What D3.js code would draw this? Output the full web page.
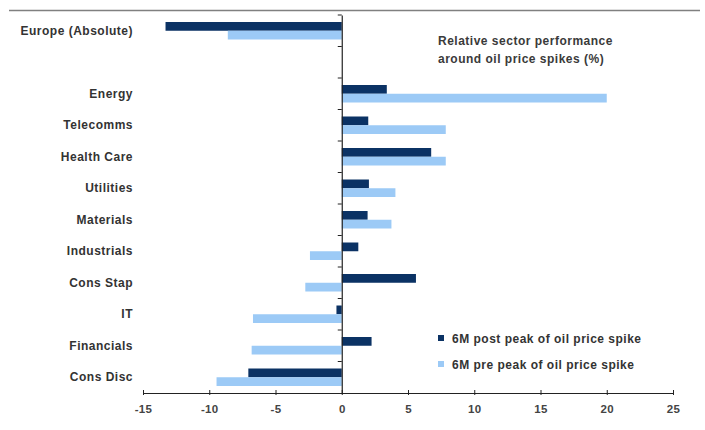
<!DOCTYPE html>
<html>
<head>
<meta charset="utf-8">
<script src="https://cdn.jsdelivr.net/npm/d3@7"></script>
<style>
  html, body { margin: 0; padding: 0; background: #fff; }
  svg { display: block; }
  text { font-family: "Liberation Sans", Arial, sans-serif; }
</style>
</head>
<body>
<svg id="chart" width="705" height="430"></svg>
<script>
const categories = ["Europe (Absolute)", " ", "Energy", "Telecomms", "Health Care", "Utilities", "Materials", "Industrials", "Cons Stap", "IT", "Financials", "Cons Disc"];
const postPeak = [-13.3, null, 3.4, 2.0, 6.75, 2.05, 1.95, 1.25, 5.6, -0.4, 2.25, -7.05];
const prePeak  = [-8.6, null, 20.0, 7.85, 7.85, 4.05, 3.75, -2.4, -2.75, -6.7, -6.8, -9.45];
const seriesNames = ["6M post peak of oil price spike", "6M pre peak of oil price spike"];
const xTicks = [-15, -10, -5, 0, 5, 10, 15, 20, 25];
const titleLines = ["Relative sector performance", "around oil price spikes (%)"];

const colors = ["#0b3264", "#9ccaf6"];

const svg = d3.select("#chart");

const x = d3.scaleLinear().domain([-15, 25]).range([143, 673]);
const y = d3.scaleBand().domain(categories).range([15, 393]).paddingInner(0).paddingOuter(0);
const sub = d3.scaleBand().domain([0, 1]).range([7, y.bandwidth() - 7]);

// top rule
svg.append("line")
  .attr("x1", 9).attr("x2", 700).attr("y1", 10.5).attr("y2", 10.5)
  .attr("stroke", "#808080").attr("stroke-width", 1.5);

const rows = categories.map((c, i) => ({ cat: c, vals: [postPeak[i], prePeak[i]] }));

const g = svg.append("g");
rows.forEach(r => {
  r.vals.forEach((v, k) => {
    if (v === null) return;
    g.append("rect")
      .attr("x", Math.min(x(0), x(v)))
      .attr("width", Math.abs(x(v) - x(0)))
      .attr("y", y(r.cat) + sub(k))
      .attr("height", sub.bandwidth())
      .attr("fill", colors[k]);
  });
});

// x axis
const xAxis = svg.append("g")
  .attr("transform", `translate(0,${y.range()[1]})`)
  .call(d3.axisBottom(x).tickValues(xTicks).tickFormat(d => String(d)).tickSize(3).tickSizeOuter(0).tickPadding(9));
xAxis.select(".domain").attr("stroke", "#222").attr("stroke-width", 1.2);
xAxis.selectAll(".tick line").attr("stroke", "#222").attr("y1", -3).attr("y2", 2);
xAxis.selectAll(".tick text")
  .attr("font-size", 11.5).attr("font-weight", "bold").attr("fill", "#444")
  .attr("letter-spacing", 0.3)
  .attr("font-family", "Liberation Sans, Arial, sans-serif");

// y axis at zero
const yAxis = svg.append("g")
  .attr("transform", `translate(${x(0)},0)`)
  .call(d3.axisLeft(y).tickSize(0).tickFormat(""));
yAxis.select(".domain").attr("stroke", "#222").attr("stroke-width", 1.2);
yAxis.selectAll(".tick").remove();
// band boundary ticks
const bounds = categories.map(c => y(c));
yAxis.selectAll("line.bt").data(bounds).enter().append("line")
  .attr("class", "bt")
  .attr("x1", -4).attr("x2", 0)
  .attr("y1", d => d).attr("y2", d => d)
  .attr("stroke", "#222").attr("stroke-width", 1);

// category labels
svg.append("g").selectAll("text").data(categories).enter().append("text")
  .attr("x", 133)
  .attr("y", d => y(d) + y.bandwidth() / 2 + 4)
  .attr("text-anchor", "end")
  .attr("font-size", 12).attr("font-weight", "bold").attr("fill", "#333")
  .attr("letter-spacing", 0.5)
  .text(d => d.trim());

// title
svg.append("g").selectAll("text").data(titleLines).enter().append("text")
  .attr("x", 438)
  .attr("y", (d, i) => 45 + i * 18)
  .attr("font-size", 12).attr("font-weight", "bold").attr("fill", "#3a3a3a")
  .attr("letter-spacing", 0.5)
  .text(d => d);

// legend
const leg = svg.append("g").selectAll("g").data(seriesNames).enter().append("g")
  .attr("transform", (d, i) => `translate(438,${335 + i * 26})`);
leg.append("rect").attr("width", 6).attr("height", 6).attr("fill", (d, i) => colors[i]);
leg.append("text").attr("x", 14).attr("y", 7.5)
  .attr("font-size", 12).attr("font-weight", "bold").attr("fill", "#333")
  .attr("letter-spacing", 0.5)
  .text(d => d);
</script>
</body>
</html>
